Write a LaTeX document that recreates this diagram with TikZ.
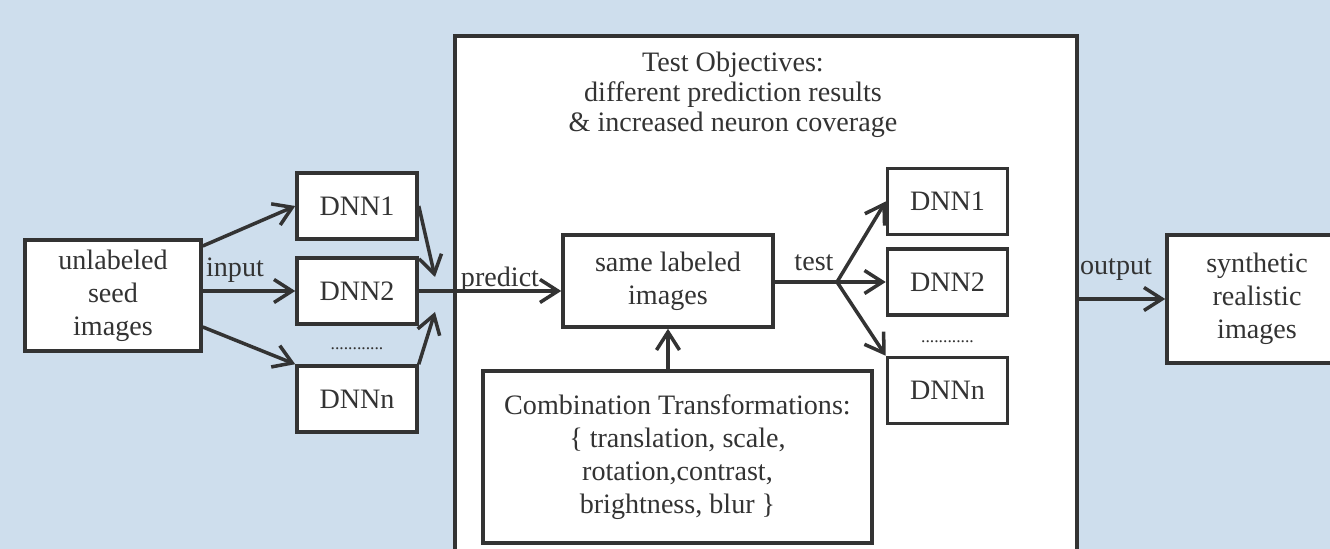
\documentclass[tikz,border=0pt]{standalone}
\usepackage{fontspec}
\setmainfont{Liberation Serif}
\usetikzlibrary{arrows.meta}
\definecolor{xBlue}{RGB}{206,222,237}
\definecolor{xInk}{RGB}{51,51,51}
\tikzset{
  block/.style={draw=xInk, fill=white, line width=2pt, align=center, text=xInk,
                font=\fontsize{16}{18.8}\selectfont, inner sep=2pt},
  net/.style={draw=xInk, fill=white, line width=2pt, align=center, text=xInk,
              font=\fontsize{16}{18.8}\selectfont, inner sep=2pt,
              minimum width=24mm, minimum height=13.2mm},
  flow/.style={-{Straight Barb[length=3.6mm, width=4.6mm]}, line width=2pt, xInk},
  link/.style={line width=2pt, xInk},
  tag/.style={text=xInk, font=\fontsize{16}{17.2}\selectfont, inner sep=1pt},
  more/.style={text=xInk, font=\fontsize{10}{12}\selectfont, inner sep=0pt},
}

\begin{document}
\begin{tikzpicture}
    \useasboundingbox (0,0) rectangle (26.6,10.98);
    \fill[xBlue] (0,0) rectangle (26.6,10.98);
    \clip (0,0) rectangle (26.6,10.98);

    \node[block, minimum width=124.4mm, minimum height=112.8mm] (stage) at (15.32,4.62) {};
    \node[tag, align=center] (goal) at (14.66,9.08)
      {Test Objectives:\\different prediction results\\\& increased neuron coverage};

    \node[block, minimum width=35.2mm, minimum height=22.2mm] (seed) at (2.26,5.07) {unlabeled\\seed\\images};
    \node[net] (a1) at (7.14,6.86) {DNN1};
    \node[net] (a2) at (7.14,5.16) {DNN2};
    \node[more] (adots) at (7.14,4.0) {............};
    \node[net] (an) at (7.14,3.0) {DNNn};

    \node[block, minimum width=42mm, minimum height=18.4mm] (same) at (13.36,5.36) {same labeled\\images};
    \node[block, minimum width=77.8mm, minimum height=34.4mm] (comb) at (13.55,1.84)
      {Combination Transformations:\\\{ translation, scale,\\rotation,contrast,\\brightness, blur \}};

    \node[net] (b1) at (18.95,6.95) {DNN1};
    \node[net] (b2) at (18.95,5.34) {DNN2};
    \node[more] (bdots) at (18.95,4.14) {............};
    \node[net] (bn) at (18.95,3.17) {DNNn};
    \coordinate (fork) at (16.74,5.34);

    \node[block, minimum width=36mm, minimum height=25.6mm] (synth) at (25.14,5.0) {synthetic\\realistic\\images};

    \coordinate (m1) at (8.7,5.44);
    \coordinate (m2) at (8.7,4.74);

    \draw[flow] ([yshift=9.9mm]seed.east) -- (a1.west);
    \draw[flow] (seed.east |- a2.west) -- (a2.west);
    \draw[flow] ([yshift=-6.3mm]seed.east) -- (an.north west);
    \draw[flow] (a1.east) -- (m1);
    \draw[flow] (an.north east) -- (m2);
    \draw[flow] (a2.east) -- (a2.east -| same.west);
    \draw[link] (same.east |- fork) -- (fork);
    \draw[flow] (fork) -- (b1.west);
    \draw[flow] (fork) -- (b2.west);
    \draw[flow] (fork) -- (bn.north west);
    \draw[flow] (comb.north -| same.south) -- (same.south);
    \draw[flow] (stage.east |- synth.west) -- (synth.west);

    \node[tag] (lin) at (4.7,5.58) {input};
    \node[tag] (lpre) at (10.0,5.38) {predict};
    \node[tag] (ltest) at (16.28,5.72) {test};
    \node[tag] (lout) at (22.32,5.58) {output};
  \end{tikzpicture}
\end{document}
